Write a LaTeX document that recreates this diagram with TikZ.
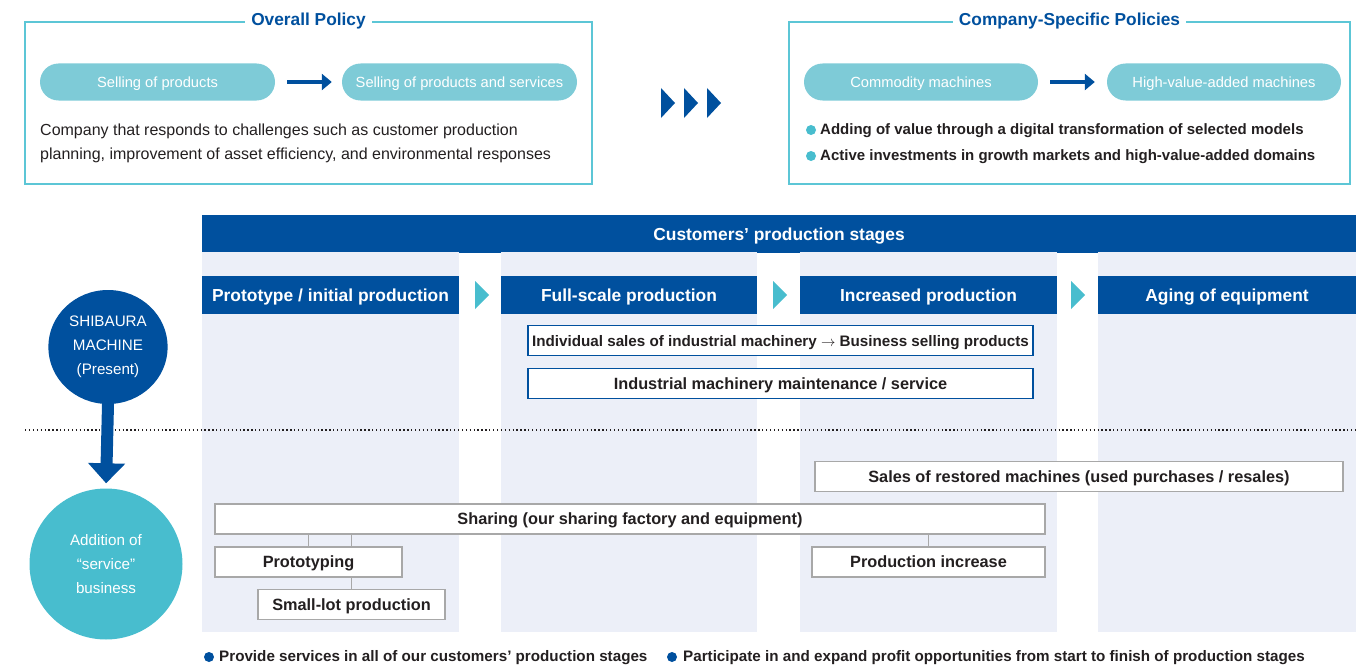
\documentclass[tikz,border=0pt]{standalone}
\usepackage{fontspec}
\setmainfont{Liberation Sans}
\usepackage{tikz}
\usetikzlibrary{shapes,arrows.meta,calc,positioning}
\definecolor{sbblue}{RGB}{0,80,158}
\definecolor{sbcyan}{RGB}{72,189,206}
\definecolor{sbpill}{RGB}{126,203,215}
\definecolor{sbframe}{RGB}{92,198,214}
\definecolor{sbcol}{RGB}{236,239,248}
\definecolor{sbgray}{RGB}{168,168,168}
\definecolor{sbtext}{RGB}{35,31,32}
\tikzset{fontscale/.style = {font=\fontsize{#1}{24}\selectfont}}
\tikzset{boldscale/.style = {font=\bfseries\fontsize{#1}{20}\selectfont}}
\tikzstyle{frame}=[rectangle, draw=sbframe, line width=1.2pt, minimum height=162pt]
\tikzstyle{frametitle}=[rectangle, fill=white, text=sbblue, inner xsep=6pt, boldscale=17.3]
\tikzstyle{pill}=[rectangle, rounded corners=18.5pt, fill=sbpill, text=white, minimum width=235pt, minimum height=37pt, text depth=0pt, fontscale=14.7]
\tikzstyle{bluebar}=[rectangle, fill=sbblue, text=white, minimum height=38pt, text depth=0pt, boldscale=17.4]
\tikzstyle{colbg}=[rectangle, fill=sbcol, minimum height=380pt]
\tikzstyle{salesbox}=[rectangle, draw=sbblue, fill=white, line width=1.5pt, minimum width=505pt, minimum height=30pt, text depth=0pt, text=sbtext, boldscale=16.3]
\tikzstyle{servbox}=[rectangle, draw=sbgray, fill=white, line width=1.5pt, minimum height=30pt, text depth=0pt, text=sbtext, boldscale=16.3]
\tikzstyle{bigcircle}=[ellipse, text=white, align=center, fontscale=15.2]
\tikzstyle{bulletdot}=[circle, inner sep=0pt, minimum size=10pt]
\tikzstyle{legend_text}=[rectangle, inner sep=0pt, text=sbtext, boldscale=15.2]

\begin{document}
\begin{tikzpicture}[x=1pt, y=-1pt, bigarrow/.style={draw=sbblue, line width=4pt, -{Triangle[length=10pt,width=16pt]}}, downarrow/.style={draw=sbblue, line width=12pt, -{Triangle[length=20pt,width=36pt]}}, link/.style={draw=sbgray, line width=1.2pt}]
\useasboundingbox (0,0) rectangle (1366,669);

% policy frames
\node[frame, minimum width=567pt] (overall) at (308.5,103) {};
\node[frametitle] (overalltitle) at (overall.north) {Overall Policy};
\node[frame, minimum width=561pt] (specific) at (1069.5,103) {};
\node[frametitle] (specifictitle) at (specific.north) {Company-Specific Policies};

\node[pill] (sell) at (157.5,82) {Selling of products};
\node[pill] (sellsrv) at (459.5,82) {Selling of products and services};
\draw[bigarrow, shorten <=12pt, shorten >=10pt] (sell) -- (sellsrv);

\node[pill, minimum width=234pt] (commodity) at (921,82) {Commodity machines};
\node[pill, minimum width=234pt] (highvalue) at (1224,82) {High-value-added machines};
\draw[bigarrow, shorten <=12pt, shorten >=12pt] (commodity) -- (highvalue);

\node[anchor=west, align=left, inner sep=0pt, text=sbtext, fontscale=16] (challenge) at (40,143)
  {Company that responds to challenges such as customer production\\planning, improvement of asset efficiency, and environmental responses};

\node[bulletdot, fill=sbcyan] (dx1) at (811,130) {};
\node[legend_text, anchor=west, boldscale=15] (dx1t) at (820,131) {Adding of value through a digital transformation of selected models};
\node[bulletdot, fill=sbcyan] (dx2) at (811,156) {};
\node[legend_text, anchor=west, boldscale=15] (dx2t) at (820,157) {Active investments in growth markets and high-value-added domains};

\foreach \x in {661,684,707}
  \fill[sbblue] (\x,88) -- ++(14,15) -- ++(-14,15) -- cycle;

% production stages
\node[bluebar, minimum width=1154pt] (stages) at (779,234) {Customers’ production stages};
\foreach \cx/\w [count=\i] in {330.5/257, 629/256, 928.5/257, 1227/258}
  \node[colbg, minimum width=\w pt] (col\i) at (\cx,442) {};
\node[bluebar, minimum width=257pt] (stage1) at (330.5,295) {Prototype / initial production};
\node[bluebar, minimum width=256pt] (stage2) at (629,295) {Full-scale production};
\node[bluebar, minimum width=257pt] (stage3) at (928.5,295) {Increased production};
\node[bluebar, minimum width=258pt] (stage4) at (1227,295) {Aging of equipment};
\foreach \x in {475,773,1071}
  \fill[sbcyan] (\x,281) -- ++(14,14) -- ++(-14,14) -- cycle;

\coordinate (dotl) at (25,430);
\coordinate (dotr) at (1356,430);
\draw[sbtext, line width=1.3pt, dash pattern=on 1.3pt off 2.6pt] (dotl) -- (dotr);

% present business
\node[salesbox, boldscale=15.2] (indiv) at (780.5,340.5) {Individual sales of industrial machinery $\rightarrow$ Business selling products};
\node[salesbox] (maint) at (780.5,383.5) {Industrial machinery maintenance / service};

% service business
\node[servbox, minimum width=528pt] (restored) at (1079,476.5) {Sales of restored machines (used purchases / resales)};
\node[servbox, minimum width=830pt] (sharing) at (630,519) {Sharing (our sharing factory and equipment)};
\node[servbox, minimum width=187pt] (proto) at (308.5,562) {Prototyping};
\node[servbox, minimum width=187pt] (smalllot) at (351.5,604.5) {Small-lot production};
\node[servbox, minimum width=233pt] (prodinc) at (928.5,562) {Production increase};
\draw[link] (proto.north) -- (proto.north |- sharing.south);
\draw[link] (smalllot.north |- sharing.south) -- (smalllot.north |- proto.north);
\draw[link] (smalllot.north |- proto.south) -- (smalllot.north);
\draw[link] (prodinc.north) -- (prodinc.north |- sharing.south);

% circles
\node[bigcircle, fill=sbblue, minimum width=117pt, minimum height=114pt] (shibaura) at (108,347) {SHIBAURA\\MACHINE\\(Present)};
\node[bigcircle, fill=sbcyan, minimum width=153pt, minimum height=151pt] (addition) at (106,564) {Addition of\\“service”\\business};
\draw[downarrow, shorten <=-5pt, shorten >=5pt] (shibaura.south) -- (addition.north);

% notes
\node[bulletdot, fill=sbblue] (note1) at (209,657) {};
\node[legend_text, anchor=west] (note1t) at (219,658) {Provide services in all of our customers’ production stages};
\node[bulletdot, fill=sbblue] (note2) at (672,657) {};
\node[legend_text, anchor=west] (note2t) at (683,658) {Participate in and expand profit opportunities from start to finish of production stages};
\end{tikzpicture}
\end{document}
